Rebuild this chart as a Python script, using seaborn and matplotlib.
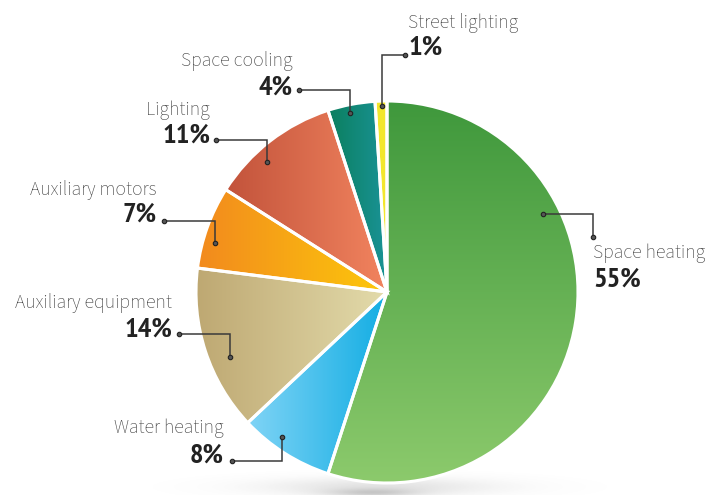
import numpy as np
import matplotlib
matplotlib.use("Agg")
import matplotlib.pyplot as plt
import seaborn as sns
from matplotlib.colors import to_rgb
import logging
logging.getLogger("matplotlib.font_manager").setLevel(logging.ERROR)

# ---------------- data ----------------
categories = ["Space heating", "Water heating", "Auxiliary equipment",
              "Auxiliary motors", "Lighting", "Space cooling", "Street lighting"]
shares = [55, 8, 14, 7, 11, 4, 1]
pct_labels = ["55%", "8%", "14%", "7%", "11%", "4%", "1%"]

# ---------------- style ----------------
grad_start = ["#3f983c", "#80d4f6", "#bea872", "#f28a1e", "#c2533b", "#0b7f5e", "#f3e72e"]
grad_end   = ["#8cca6c", "#12ade3", "#e3dbab", "#fdc80b", "#f2845f", "#1a9397", "#f3e72e"]
grad_dir   = ["v", "h", "h", "h", "h", "h", "h"]  # v: top->bottom, h: left->right

W, H = 707, 495
CX, CY, R = 387, H - 292, 191

anchor_frac = [(0.68, 0.913), (0.38, 0.937), (0.59, 0.89), (0.65, 0.936),
               (0.62, 0.926), (0.56, 0.957), (0.45, 0.974)]
leader_end = [(593, 237), (232, 461), (179, 334), (164, 221), (216, 140), (299, 90), (405, 55)]
elbow_mode = ["h", "v", "v", "v", "v", "v", "v"]
label_pos = [(593, 258, 287, "left"), (224, 433, 463, "right"), (172, 308, 337, "right"),
             (157, 195, 222, "right"), (210, 115, 143, "right"), (293, 66, 95, "right"),
             (408, 28, 55, "left")]

NAME_FONTS = ["Source Sans 3", "Source Sans Pro", "Open Sans", "Lato", "DejaVu Sans"]
PCT_FONTS = ["PT Sans Narrow", "Roboto Condensed", "Fira Sans Condensed", "Archivo Narrow",
             "Barlow Semi Condensed", "IBM Plex Sans Condensed", "DejaVu Sans"]

sns.set_theme(style="white")
plt.rcParams["font.family"] = NAME_FONTS

fig = plt.figure(figsize=(W / 100, H / 100), dpi=100)
ax = fig.add_axes([0, 0, 1, 1])

# soft shadow under the pie
xs = np.linspace(150, 620, 500)
ys = np.linspace(0, 50, 100)
XX, YY = np.meshgrid(xs, ys)
alpha = 0.20 * np.exp(-((XX - 380) / 115) ** 2 - ((YY - 8) / 9) ** 2)
alpha += 0.28 * np.exp(-((XX - 372) / 45) ** 2 - ((YY - 2) / 4) ** 2)
shadow = np.zeros((len(ys), len(xs), 4))
shadow[..., :3] = 0.45
shadow[..., 3] = np.clip(alpha, 0, 1)
ax.imshow(shadow, extent=[150, 620, 0, 50], origin="lower", zorder=0, aspect="auto",
          interpolation="bilinear")

wedges, _ = ax.pie(shares, startangle=90, counterclock=False, center=(CX, CY), radius=R,
                   wedgeprops=dict(edgecolor="white", linewidth=2.2, facecolor="none"),
                   frame=True)

for i, w in enumerate(wedges):
    w.set_facecolor("none")
    w.set_zorder(3)
    ext = w.get_path().get_extents()
    x0, y0, x1, y1 = ext.x0, ext.y0, ext.x1, ext.y1
    c0, c1 = np.array(to_rgb(grad_start[i])), np.array(to_rgb(grad_end[i]))
    t = np.linspace(0, 1, 256)
    if grad_dir[i] == "h":
        img = c0[None, None, :] * (1 - t)[None, :, None] + c1[None, None, :] * t[None, :, None]
        img = np.repeat(img, 2, axis=0)
    else:
        img = c1[None, None, :] * (1 - t)[:, None, None] + c0[None, None, :] * t[:, None, None]
        img = np.repeat(img, 2, axis=1)
    im = ax.imshow(img, extent=[x0, x1, y0, y1], origin="lower", aspect="auto",
                   interpolation="bilinear", zorder=2)
    im.set_clip_path(w)

line_col = "#3a3a3a"
for i, w in enumerate(wedges):
    th1, th2 = w.theta1, w.theta2
    fa, fr = anchor_frac[i]
    ang = np.deg2rad(th1 + fa * (th2 - th1))
    ax_, ay_ = CX + fr * R * np.cos(ang), CY + fr * R * np.sin(ang)
    ex, ey = leader_end[i][0], H - leader_end[i][1]
    if elbow_mode[i] == "v":
        px, py = [ax_, ax_, ex], [ay_, ey, ey]
    else:
        px, py = [ax_, ex, ex], [ay_, ay_, ey]
    ax.plot(px, py, color=line_col, lw=1.1, zorder=5, solid_joinstyle="miter")
    ax.plot([ax_, ex], [ay_, ey], ls="none", marker="o", ms=3.2, mfc="#555555",
            mec="#222222", mew=0.8, zorder=6)
    lx, ny, py_, ha = label_pos[i]
    ax.text(lx, H - ny, categories[i], ha=ha, va="baseline", fontsize=14.2,
            fontweight="light", color="#454545", zorder=7, family=NAME_FONTS)
    ax.text(lx, H - py_, pct_labels[i], ha=ha, va="baseline", fontsize=20.5,
            fontweight="bold", color="#222222", zorder=7, family=PCT_FONTS)

ax.set_xlim(0, W)
ax.set_ylim(0, H)
ax.set_aspect("equal")
ax.axis("off")
fig.savefig("out.png", dpi=100, facecolor="white")
